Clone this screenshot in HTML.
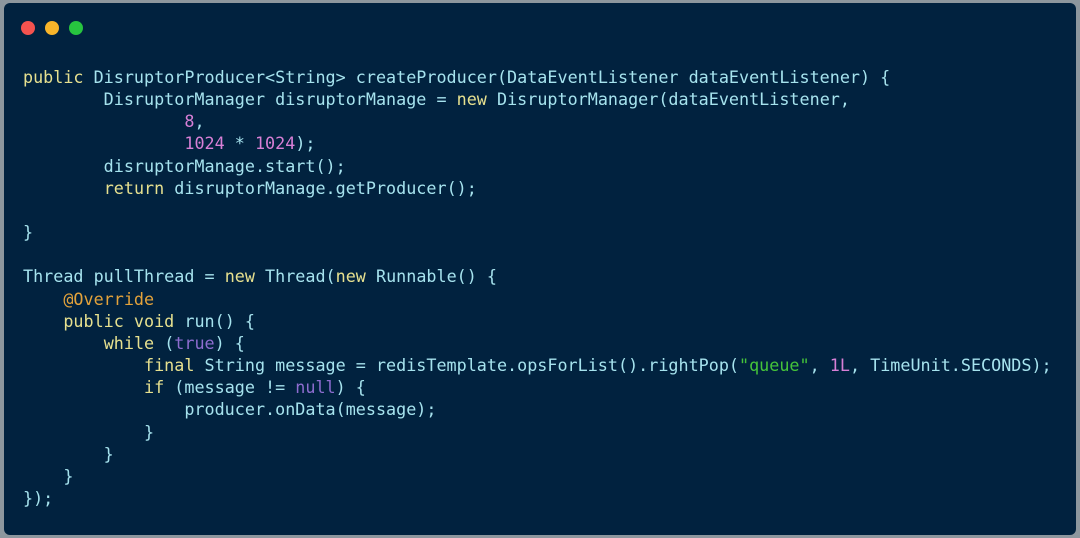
<!DOCTYPE html>
<html><head><meta charset="utf-8"><style>
html,body{margin:0;padding:0;width:1080px;height:538px;background:#8d979e;overflow:hidden}
.win{position:absolute;left:4px;top:3px;width:1072px;height:532px;background:#01223f;border-radius:6px}
.d{position:absolute;top:18px;width:14px;height:14px;border-radius:50%}
pre{position:absolute;left:19px;top:63px;margin:0;font-family:"DejaVu Sans Mono","Liberation Mono",monospace;font-size:16.75px;line-height:22.15px;color:#a6e3ee}
.k{color:#e6e08f}.n{color:#d77fd6}.s{color:#45c43a}.a{color:#e3a23b}.p{color:#8e6dd0}
</style></head><body>
<div class="win">
<div class="d" style="left:17px;background:#f4534f"></div>
<div class="d" style="left:41px;background:#f8b52a"></div>
<div class="d" style="left:65px;background:#27c43f"></div>
<pre><span class="k">public</span> DisruptorProducer&lt;String&gt; createProducer(DataEventListener dataEventListener) {
        DisruptorManager disruptorManage = <span class="k">new</span> DisruptorManager(dataEventListener,
                <span class="n">8</span>,
                <span class="n">1024</span> * <span class="n">1024</span>);
        disruptorManage.start();
        <span class="k">return</span> disruptorManage.getProducer();

}

Thread pullThread = <span class="k">new</span> Thread(<span class="k">new</span> Runnable() {
    <span class="a">@Override</span>
    <span class="k">public void</span> run() {
        <span class="k">while</span> (<span class="p">true</span>) {
            <span class="k">final</span> String message = redisTemplate.opsForList().rightPop(<span class="s">"queue"</span>, <span class="n">1L</span>, TimeUnit.SECONDS);
            <span class="k">if</span> (message != <span class="p">null</span>) {
                producer.onData(message);
            }
        }
    }
});</pre>
</div>
</body></html>
